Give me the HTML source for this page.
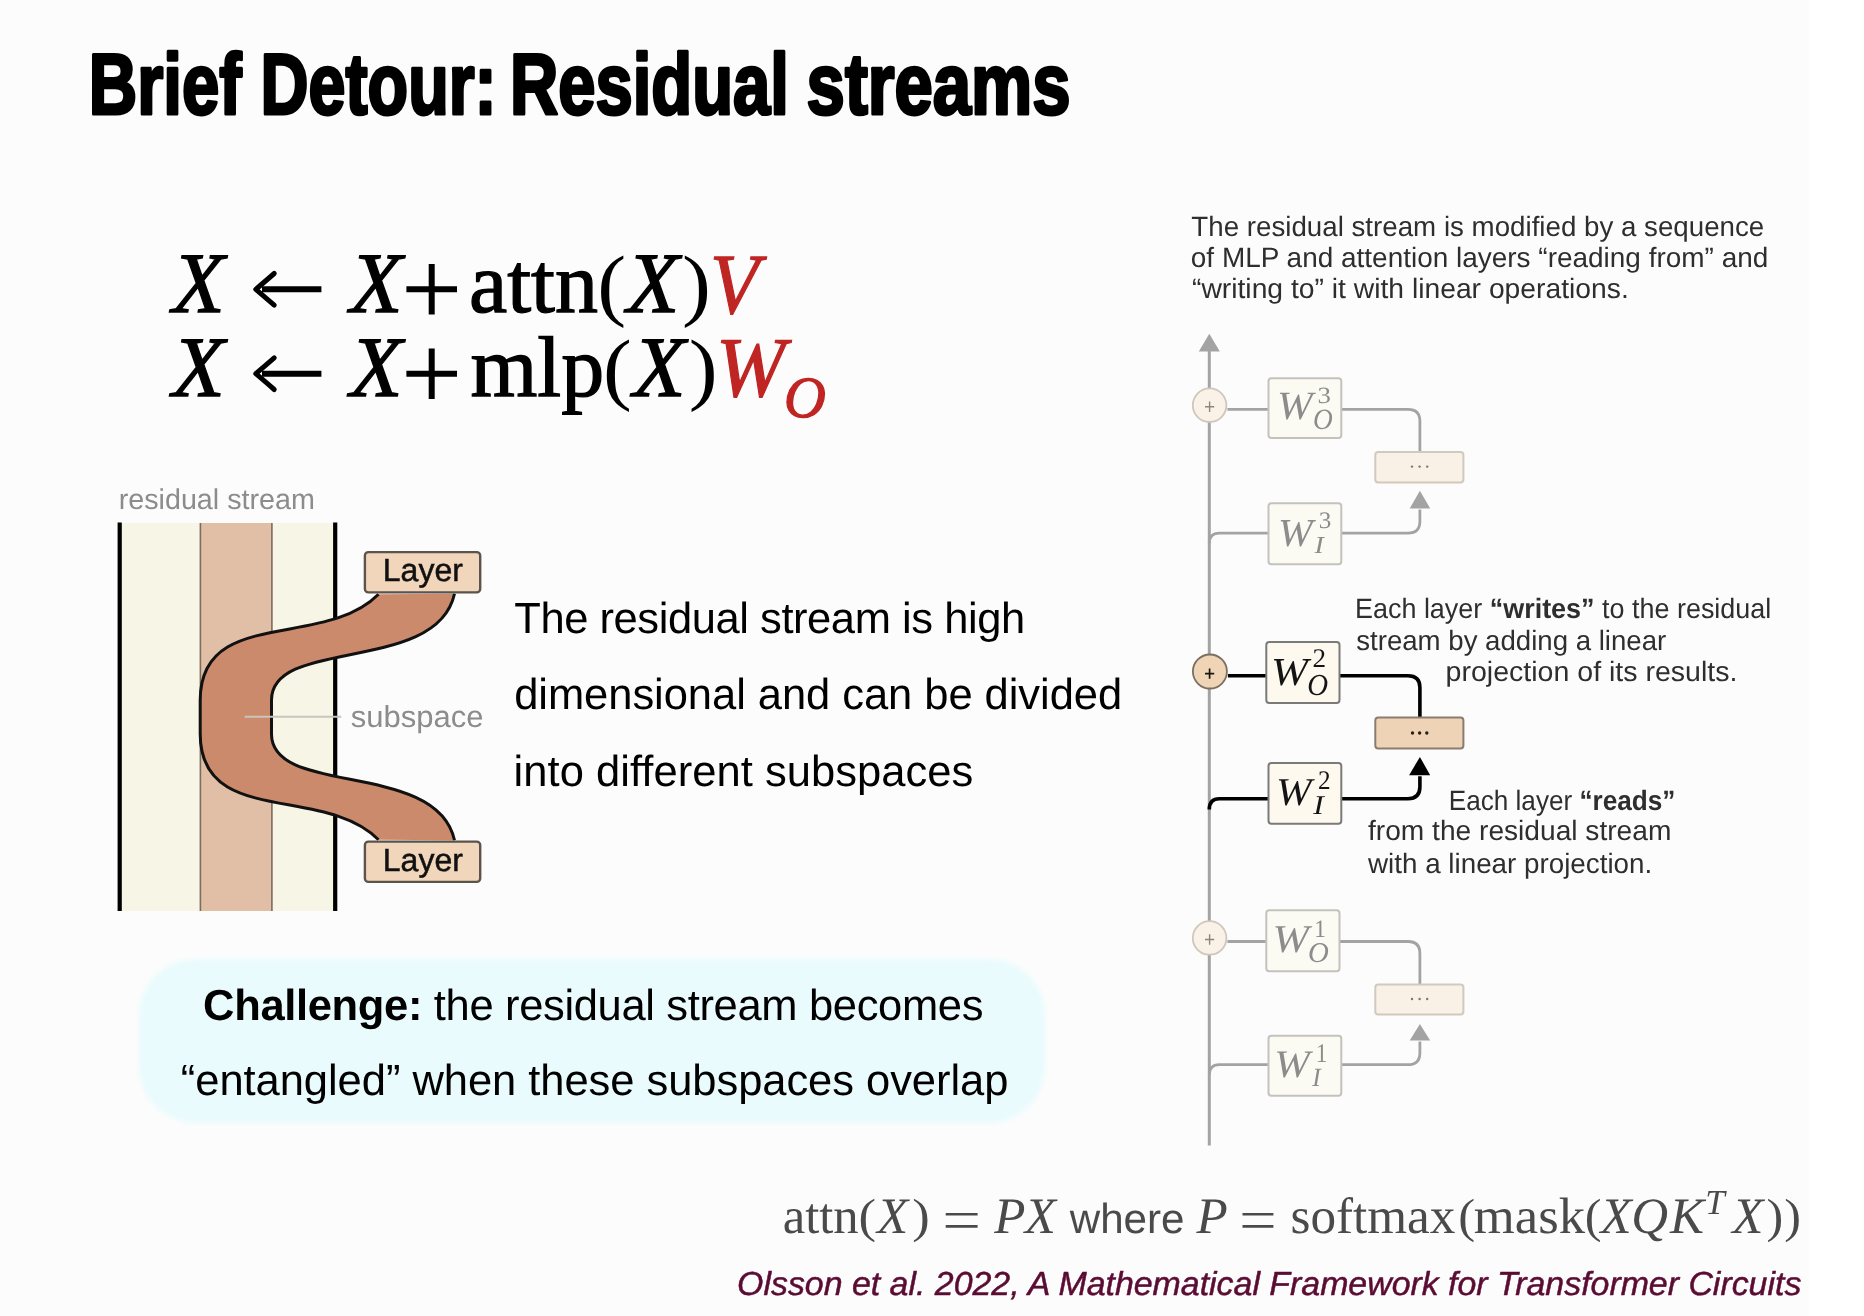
<!DOCTYPE html>
<html><head><meta charset="utf-8"><title>Brief Detour: Residual streams</title>
<style>
html,body{margin:0;padding:0;background:#fcfcfc;}
#s{position:relative;width:1864px;height:1316px;overflow:hidden;background:#fcfcfc;}
svg{position:absolute;left:0;top:0;filter:blur(0.45px);}
</style></head><body>
<div id="s">
<svg width="1864" height="1316" viewBox="0 0 1864 1316" text-rendering="geometricPrecision">
<rect x="1809" y="0" width="55" height="1316" fill="#ffffff"/>
<text x="88.75" y="113.60" font-family="Liberation Sans" font-size="86.5" fill="#000" font-weight="bold" textLength="152.79" lengthAdjust="spacingAndGlyphs" stroke="#000" stroke-width="3.2" stroke-linejoin="round">Brief</text>
<text x="260.59" y="113.60" font-family="Liberation Sans" font-size="86.5" fill="#000" font-weight="bold" textLength="236.06" lengthAdjust="spacingAndGlyphs" stroke="#000" stroke-width="3.2" stroke-linejoin="round">Detour:</text>
<text x="510.06" y="113.60" font-family="Liberation Sans" font-size="86.5" fill="#000" font-weight="bold" textLength="278.74" lengthAdjust="spacingAndGlyphs" stroke="#000" stroke-width="3.2" stroke-linejoin="round">Residual</text>
<text x="806.61" y="113.60" font-family="Liberation Sans" font-size="86.5" fill="#000" font-weight="bold" textLength="263.98" lengthAdjust="spacingAndGlyphs" stroke="#000" stroke-width="3.2" stroke-linejoin="round">streams</text>
<text x="172.26" y="312.00" font-family="Liberation Serif" font-size="86" fill="#000" font-style="italic" stroke="#000" stroke-width="1.3">X</text>
<text x="349.96" y="312.00" font-family="Liberation Serif" font-size="86" fill="#000" font-style="italic" stroke="#000" stroke-width="1.3">X</text>
<text x="172.26" y="396.40" font-family="Liberation Serif" font-size="86" fill="#000" font-style="italic" stroke="#000" stroke-width="1.3">X</text>
<text x="349.96" y="396.40" font-family="Liberation Serif" font-size="86" fill="#000" font-style="italic" stroke="#000" stroke-width="1.3">X</text>
<text x="468.98" y="312.00" font-family="Liberation Serif" font-size="86" fill="#000" stroke="#000" stroke-width="1.3">attn</text>
<text x="626.86" y="312.00" font-family="Liberation Serif" font-size="86" fill="#000" font-style="italic" stroke="#000" stroke-width="1.3">X</text>
<text x="470.39" y="396.40" font-family="Liberation Serif" font-size="86" fill="#000" stroke="#000" stroke-width="1.3">mlp</text>
<text x="633.06" y="396.40" font-family="Liberation Serif" font-size="86" fill="#000" font-style="italic" stroke="#000" stroke-width="1.3">X</text>
<path d="M262,289.3 H321.4" stroke="#000" stroke-width="6" fill="none"/>
<path d="M274.2,273.5 Q263.5,282.8 255.8,289.3 Q263.5,295.8 274.2,305.1" stroke="#000" stroke-width="5" fill="none" stroke-linecap="round" stroke-linejoin="round"/>
<path d="M406.4,289.3 H457 M431.7,264.0 V314.6" stroke="#000" stroke-width="6" fill="none"/>
<path d="M262,373.7 H321.4" stroke="#000" stroke-width="6" fill="none"/>
<path d="M274.2,357.9 Q263.5,367.2 255.8,373.7 Q263.5,380.2 274.2,389.5" stroke="#000" stroke-width="5" fill="none" stroke-linecap="round" stroke-linejoin="round"/>
<path d="M406.4,373.7 H457 M431.7,348.4 V399.0" stroke="#000" stroke-width="6" fill="none"/>
<rect x="120" y="523" width="215" height="388" fill="#f7f5e5"/>
<rect x="200.4" y="523" width="71.5" height="388" fill="#e0bfa6"/>
<path d="M200.4,523 V911 M271.9,523 V911" stroke="#7d6b5c" stroke-width="1.6" fill="none"/>
<path d="M119.7,522.5 V911 M335.2,522.5 V911" stroke="#000" stroke-width="4.2" fill="none"/>
<path d="M378.5,594.2 C324.2,649.5 200.2,606.6 200.2,700.3 L200.2,733.7 C200.2,827.4 324.2,784.5 378.5,839.8 L454.5,840.2 C436.9,759.9 271.5,797.0 271.5,734.0 L271.5,700.0 C271.5,637.0 436.9,674.1 454.5,593.8 Z" fill="#cb8a6c" stroke="none"/>
<path d="M378.5,594.2 C324.2,649.5 200.2,606.6 200.2,700.3 L200.2,733.7 C200.2,827.4 324.2,784.5 378.5,839.8 M454.5,840.2 C436.9,759.9 271.5,797.0 271.5,734.0 L271.5,700.0 C271.5,637.0 436.9,674.1 454.5,593.8" fill="none" stroke="#111" stroke-width="3"/>
<path d="M244.7,716.8 H341.3" stroke="#c9c4bd" stroke-width="2" fill="none"/>
<rect x="364.9" y="552.1" width="115.29999999999998" height="40.30000000000005" rx="3.5" fill="#f1d6bb" stroke="#5b544c" stroke-width="2.4"/>
<rect x="364.9" y="841.6" width="115.29999999999998" height="40.30000000000005" rx="3.5" fill="#f1d6bb" stroke="#5b544c" stroke-width="2.4"/>
<text x="382.80" y="581.00" font-family="Liberation Sans" font-size="32" fill="#111" stroke="#111" stroke-width="0.5">Layer</text>
<text x="382.80" y="871.00" font-family="Liberation Sans" font-size="32" fill="#111" stroke="#111" stroke-width="0.5">Layer</text>
<text x="118.69" y="509.40" font-family="Liberation Sans" font-size="28.6" fill="#8c8c8c" textLength="196.20" lengthAdjust="spacingAndGlyphs" >residual stream</text>
<text x="350.74" y="726.90" font-family="Liberation Sans" font-size="30.5" fill="#8c8c8c" textLength="132.74" lengthAdjust="spacingAndGlyphs" >subspace</text>
<text x="514.24" y="633.10" font-family="Liberation Sans" font-size="43.5" fill="#000" textLength="511.00" lengthAdjust="spacing" >The residual stream is high</text>
<text x="514.17" y="708.90" font-family="Liberation Sans" font-size="43.5" fill="#000" textLength="608.00" lengthAdjust="spacing" >dimensional and can be divided</text>
<text x="513.59" y="786.30" font-family="Liberation Sans" font-size="43.5" fill="#000" textLength="459.60" lengthAdjust="spacing" >into different subspaces</text>
<defs><filter id="bl" x="-5%" y="-10%" width="110%" height="120%"><feGaussianBlur stdDeviation="2.2"/></filter></defs>
<rect x="139" y="959" width="906" height="164" rx="56" fill="#eafbfd" filter="url(#bl)"/>
<text x="203.12" y="1019.80" font-family="Liberation Sans" font-size="43.5" fill="#000" textLength="780.30" lengthAdjust="spacing" ><tspan font-weight="bold">Challenge:</tspan> the residual stream becomes</text>
<text x="180.79" y="1094.70" font-family="Liberation Sans" font-size="43.5" fill="#000" textLength="827.60" lengthAdjust="spacing" >“entangled” when these subspaces overlap</text>
<text x="709.91" y="312.70" font-family="Liberation Serif" font-size="85.68" fill="#bf2522" font-style="italic" textLength="48.98" lengthAdjust="spacingAndGlyphs" stroke="#bf2522" stroke-width="1.2">V</text>
<text x="716.12" y="395.71" font-family="Liberation Serif" font-size="85.08" fill="#bf2522" font-style="italic" textLength="69.29" lengthAdjust="spacingAndGlyphs" stroke="#bf2522" stroke-width="1.2">W</text>
<text x="783.88" y="417.43" font-family="Liberation Serif" font-size="58.34" fill="#bf2522" font-style="italic" textLength="41.88" lengthAdjust="spacingAndGlyphs" stroke="#bf2522" stroke-width="1.2">O</text>
<text x="597.18" y="310.78" font-family="Liberation Serif" font-size="79.96" fill="#000" textLength="28.91" lengthAdjust="spacingAndGlyphs" >(</text>
<text x="681.90" y="310.78" font-family="Liberation Serif" font-size="79.96" fill="#000" textLength="28.91" lengthAdjust="spacingAndGlyphs" >)</text>
<text x="603.00" y="395.18" font-family="Liberation Serif" font-size="79.96" fill="#000" textLength="28.78" lengthAdjust="spacingAndGlyphs" >(</text>
<text x="688.80" y="395.18" font-family="Liberation Serif" font-size="79.96" fill="#000" textLength="28.91" lengthAdjust="spacingAndGlyphs" >)</text>
<path d="M1209.3,350 V1145.5" stroke="#a3a3a3" stroke-width="3" fill="none"/>
<path d="M1209.3,333.8 L1198.8,351.6 L1219.8,351.6 Z" fill="#a3a3a3"/>
<path d="M1227.3999999999999,409.4 H1268.5" stroke="#a3a3a3" stroke-width="2.8" fill="none"/>
<path d="M1341.3,409.4 H1408 Q1419.9,409.4 1419.9,421.3 V451.9" stroke="#a3a3a3" stroke-width="2.8" fill="none"/>
<path d="M1209.3,543.5 Q1209.3,533.2 1219.3,533.2 H1268.5" stroke="#a3a3a3" stroke-width="2.8" fill="none"/>
<path d="M1341.3,533.2 H1408 Q1419.9,533.2 1419.9,521.3 V509.4" stroke="#a3a3a3" stroke-width="2.8" fill="none"/>
<path d="M1419.9,490.8 L1409.7,508.4 L1430.2,508.4 Z" fill="#a3a3a3"/>
<circle cx="1209.6" cy="405.2" r="16.8" fill="#faf2e7" stroke="#cfc7bb" stroke-width="1.8"/>
<path d="M1205.0,406.8 H1214.1999999999998 M1209.6,401.6 V412.0" stroke="#8f857c" stroke-width="1.4" fill="none"/>
<rect x="1268.5" y="378.3" width="72.79999999999995" height="59.599999999999966" rx="3" fill="#fcfbf3" stroke="#c3c2bd" stroke-width="2"/>
<rect x="1268.5" y="503.3" width="72.79999999999995" height="60.900000000000034" rx="3" fill="#fcfbf3" stroke="#c3c2bd" stroke-width="2"/>
<rect x="1375.3" y="451.9" width="88.10000000000014" height="30.5" rx="3" fill="#f9f1e5" stroke="#d0c9be" stroke-width="2"/>
<circle cx="1412" cy="466.6" r="1.2" fill="#7a7570"/>
<circle cx="1419.6" cy="466.6" r="1.2" fill="#7a7570"/>
<circle cx="1427.2" cy="466.6" r="1.2" fill="#7a7570"/>
<text x="1276.98" y="418.69" font-family="Liberation Serif" font-size="40.15" fill="#8c8c8c" font-style="italic" textLength="35.68" lengthAdjust="spacingAndGlyphs" >W</text>
<text x="1317.41" y="402.57" font-family="Liberation Serif" font-size="23.37" fill="#8c8c8c" textLength="13.44" lengthAdjust="spacingAndGlyphs" >3</text>
<text x="1313.03" y="428.71" font-family="Liberation Serif" font-size="29.32" fill="#8c8c8c" font-style="italic" textLength="19.71" lengthAdjust="spacingAndGlyphs" >O</text>
<text x="1277.95" y="545.50" font-family="Liberation Serif" font-size="39.56" fill="#8c8c8c" font-style="italic" textLength="34.69" lengthAdjust="spacingAndGlyphs" >W</text>
<text x="1318.80" y="527.57" font-family="Liberation Serif" font-size="23.67" fill="#8c8c8c" textLength="12.59" lengthAdjust="spacingAndGlyphs" >3</text>
<text x="1314.61" y="552.90" font-family="Liberation Serif" font-size="24.28" fill="#8c8c8c" font-style="italic" textLength="9.30" lengthAdjust="spacingAndGlyphs" >I</text>
<path d="M1227.9,675.8 H1266.3" stroke="#000" stroke-width="3.6" fill="none"/>
<path d="M1339.5,675.8 H1408 Q1419.9,675.8 1419.9,687.6 V717.4" stroke="#000" stroke-width="3.6" fill="none"/>
<path d="M1209.3,809.5 Q1209.3,798.8 1219.3,798.8 H1268.5" stroke="#000" stroke-width="3.6" fill="none"/>
<path d="M1341.3,798.8 H1408 Q1419.9,798.8 1419.9,786.8 V776.2" stroke="#000" stroke-width="3.6" fill="none"/>
<path d="M1419.9,756.9 L1409.1,775.2 L1430.2,775.2 Z" fill="#000"/>
<circle cx="1209.9" cy="671.5" r="17.0" fill="#efd4b6" stroke="#7b6f64" stroke-width="1.8"/>
<path d="M1205.0,673.6 H1214.1999999999998 M1209.6,668.4 V678.8000000000001" stroke="#1a1410" stroke-width="1.7" fill="none"/>
<rect x="1266.3" y="641.9" width="73.20000000000005" height="61.0" rx="3" fill="#fdf9ee" stroke="#7a7a78" stroke-width="2"/>
<rect x="1268.5" y="762.9" width="72.79999999999995" height="60.89999999999998" rx="3" fill="#fdf9ee" stroke="#7a7a78" stroke-width="2"/>
<rect x="1375.3" y="717.4" width="88.10000000000014" height="31.100000000000023" rx="3" fill="#eed3b6" stroke="#8a7c70" stroke-width="2"/>
<circle cx="1412.5" cy="733.0" r="1.7" fill="#2a1e16"/>
<circle cx="1419.6" cy="733.0" r="1.7" fill="#2a1e16"/>
<circle cx="1426.8" cy="733.0" r="1.7" fill="#2a1e16"/>
<text x="1270.97" y="684.60" font-family="Liberation Serif" font-size="39.56" fill="#141414" font-style="italic" textLength="36.97" lengthAdjust="spacingAndGlyphs" >W</text>
<text x="1312.41" y="667.40" font-family="Liberation Serif" font-size="26.88" fill="#141414" textLength="13.60" lengthAdjust="spacingAndGlyphs" >2</text>
<text x="1307.15" y="694.90" font-family="Liberation Serif" font-size="30.51" fill="#141414" font-style="italic" textLength="20.83" lengthAdjust="spacingAndGlyphs" >O</text>
<text x="1276.08" y="805.00" font-family="Liberation Serif" font-size="39.41" fill="#141414" font-style="italic" textLength="35.58" lengthAdjust="spacingAndGlyphs" >W</text>
<text x="1317.89" y="789.20" font-family="Liberation Serif" font-size="26.88" fill="#141414" textLength="12.60" lengthAdjust="spacingAndGlyphs" >2</text>
<text x="1313.22" y="813.80" font-family="Liberation Serif" font-size="27.18" fill="#141414" font-style="italic" textLength="10.54" lengthAdjust="spacingAndGlyphs" >I</text>
<path d="M1227.3999999999999,941.5 H1266.3" stroke="#a3a3a3" stroke-width="2.8" fill="none"/>
<path d="M1339.5,941.5 H1408 Q1419.9,941.5 1419.9,953.5 V984.4" stroke="#a3a3a3" stroke-width="2.8" fill="none"/>
<path d="M1209.3,1075.0 Q1209.3,1064.7 1219.3,1064.7 H1268.5" stroke="#a3a3a3" stroke-width="2.8" fill="none"/>
<path d="M1341.3,1064.7 H1408 Q1419.9,1064.7 1419.9,1052.7 V1041.4" stroke="#a3a3a3" stroke-width="2.8" fill="none"/>
<path d="M1419.9,1023.9 L1409.7,1040.4 L1430.2,1040.4 Z" fill="#a3a3a3"/>
<circle cx="1209.6" cy="937.9" r="16.8" fill="#faf2e7" stroke="#cfc7bb" stroke-width="1.8"/>
<path d="M1205.0,939.5 H1214.1999999999998 M1209.6,934.3 V944.7" stroke="#8f857c" stroke-width="1.4" fill="none"/>
<rect x="1266.3" y="910.3" width="73.20000000000005" height="60.90000000000009" rx="3" fill="#fcfbf3" stroke="#c3c2bd" stroke-width="2"/>
<rect x="1268.5" y="1035.8" width="72.79999999999995" height="60.0" rx="3" fill="#fcfbf3" stroke="#c3c2bd" stroke-width="2"/>
<rect x="1375.3" y="984.4" width="88.10000000000014" height="30.0" rx="3" fill="#f9f1e5" stroke="#d0c9be" stroke-width="2"/>
<circle cx="1412" cy="999.0" r="1.2" fill="#7a7570"/>
<circle cx="1419.6" cy="999.0" r="1.2" fill="#7a7570"/>
<circle cx="1427.2" cy="999.0" r="1.2" fill="#7a7570"/>
<text x="1272.41" y="952.00" font-family="Liberation Serif" font-size="39.41" fill="#8c8c8c" font-style="italic" textLength="36.47" lengthAdjust="spacingAndGlyphs" >W</text>
<text x="1314.25" y="936.70" font-family="Liberation Serif" font-size="24.84" fill="#8c8c8c" textLength="11.65" lengthAdjust="spacingAndGlyphs" >1</text>
<text x="1308.05" y="961.52" font-family="Liberation Serif" font-size="28.58" fill="#8c8c8c" font-style="italic" textLength="20.83" lengthAdjust="spacingAndGlyphs" >O</text>
<text x="1274.28" y="1076.61" font-family="Liberation Serif" font-size="38.81" fill="#8c8c8c" font-style="italic" textLength="35.58" lengthAdjust="spacingAndGlyphs" >W</text>
<text x="1315.65" y="1061.70" font-family="Liberation Serif" font-size="26.96" fill="#8c8c8c" textLength="11.65" lengthAdjust="spacingAndGlyphs" >1</text>
<text x="1312.30" y="1085.80" font-family="Liberation Serif" font-size="26.42" fill="#8c8c8c" font-style="italic" textLength="8.50" lengthAdjust="spacingAndGlyphs" >I</text>
<text x="1191.37" y="235.50" font-family="Liberation Sans" font-size="28" fill="#2e2e2e" textLength="572.87" lengthAdjust="spacingAndGlyphs" >The residual stream is modified by a sequence</text>
<text x="1190.82" y="266.60" font-family="Liberation Sans" font-size="28" fill="#2e2e2e" textLength="577.48" lengthAdjust="spacingAndGlyphs" >of MLP and attention layers “reading from” and</text>
<text x="1191.97" y="298.00" font-family="Liberation Sans" font-size="28" fill="#2e2e2e" textLength="436.78" lengthAdjust="spacingAndGlyphs" >“writing to” it with linear operations.</text>
<text x="1355.00" y="618.30" font-family="Liberation Sans" font-size="28" fill="#2e2e2e" textLength="416.27" lengthAdjust="spacingAndGlyphs" >Each layer <tspan font-weight="bold">“writes”</tspan> to the residual</text>
<text x="1356.22" y="650.30" font-family="Liberation Sans" font-size="28" fill="#2e2e2e" textLength="310.04" lengthAdjust="spacingAndGlyphs" >stream by adding a linear</text>
<text x="1445.60" y="681.20" font-family="Liberation Sans" font-size="28" fill="#2e2e2e" textLength="291.86" lengthAdjust="spacingAndGlyphs" >projection of its results.</text>
<text x="1448.70" y="809.50" font-family="Liberation Sans" font-size="28" fill="#2e2e2e" textLength="226.72" lengthAdjust="spacingAndGlyphs" >Each layer <tspan font-weight="bold">“reads”</tspan></text>
<text x="1368.00" y="840.40" font-family="Liberation Sans" font-size="28" fill="#2e2e2e" textLength="303.34" lengthAdjust="spacingAndGlyphs" >from the residual stream</text>
<text x="1368.04" y="872.50" font-family="Liberation Sans" font-size="28" fill="#2e2e2e" textLength="284.22" lengthAdjust="spacingAndGlyphs" >with a linear projection.</text>
<text x="782.72" y="1232.60" font-family="Liberation Serif" font-size="51" fill="#4a4a4a" textLength="75.95" lengthAdjust="spacingAndGlyphs" >attn</text>
<text x="876.99" y="1232.60" font-family="Liberation Serif" font-size="51" fill="#4a4a4a" font-style="italic" >X</text>
<text x="994.27" y="1232.60" font-family="Liberation Serif" font-size="51" fill="#4a4a4a" font-style="italic" >P</text>
<text x="1024.69" y="1232.60" font-family="Liberation Serif" font-size="51" fill="#4a4a4a" font-style="italic" >X</text>
<text x="858.49" y="1231.96" font-family="Liberation Serif" font-size="48.08" fill="#4a4a4a" textLength="17.50" lengthAdjust="spacingAndGlyphs" >(</text>
<text x="912.21" y="1231.96" font-family="Liberation Serif" font-size="48.08" fill="#4a4a4a" textLength="17.50" lengthAdjust="spacingAndGlyphs" >)</text>
<text x="1458.38" y="1231.96" font-family="Liberation Serif" font-size="48.08" fill="#4a4a4a" textLength="16.86" lengthAdjust="spacingAndGlyphs" >(</text>
<text x="1584.89" y="1231.96" font-family="Liberation Serif" font-size="48.08" fill="#4a4a4a" textLength="16.73" lengthAdjust="spacingAndGlyphs" >(</text>
<text x="1766.48" y="1231.96" font-family="Liberation Serif" font-size="48.08" fill="#4a4a4a" textLength="16.73" lengthAdjust="spacingAndGlyphs" >)</text>
<text x="1784.38" y="1231.96" font-family="Liberation Serif" font-size="48.08" fill="#4a4a4a" textLength="16.73" lengthAdjust="spacingAndGlyphs" >)</text>
<path d="M945.7,1214.2 H977.6 M945.7,1226.4 H977.6" stroke="#4a4a4a" stroke-width="2.6" fill="none"/>
<path d="M1242.5,1214.2 H1273.4 M1242.5,1226.4 H1273.4" stroke="#4a4a4a" stroke-width="2.6" fill="none"/>
<text x="1069.76" y="1232.60" font-family="Liberation Sans" font-size="42" fill="#4a4a4a" textLength="114.71" lengthAdjust="spacingAndGlyphs" >where</text>
<text x="1196.47" y="1232.60" font-family="Liberation Serif" font-size="51" fill="#4a4a4a" font-style="italic" >P</text>
<text x="1290.50" y="1232.60" font-family="Liberation Serif" font-size="51" fill="#4a4a4a" textLength="164.92" lengthAdjust="spacingAndGlyphs" >softmax</text>
<text x="1473.89" y="1232.60" font-family="Liberation Serif" font-size="51" fill="#4a4a4a" textLength="111.21" lengthAdjust="spacingAndGlyphs" >mask</text>
<text x="1600.39" y="1232.60" font-family="Liberation Serif" font-size="51" fill="#4a4a4a" font-style="italic" >X</text>
<text x="1631.19" y="1232.60" font-family="Liberation Serif" font-size="51" fill="#4a4a4a" font-style="italic" >Q</text>
<text x="1670.10" y="1232.60" font-family="Liberation Serif" font-size="51" fill="#4a4a4a" font-style="italic" >K</text>
<text x="1705.21" y="1214.10" font-family="Liberation Serif" font-size="35" fill="#4a4a4a" font-style="italic" >T</text>
<text x="1732.29" y="1232.60" font-family="Liberation Serif" font-size="51" fill="#4a4a4a" font-style="italic" >X</text>
<text x="737.12" y="1294.55" font-family="Liberation Sans" font-size="33.3" fill="#5a0c33" font-style="italic" textLength="1064.22" lengthAdjust="spacingAndGlyphs" stroke="#5a0c33" stroke-width="0.5" stroke-linejoin="round">Olsson et al. 2022, A Mathematical Framework for Transformer Circuits</text>
</svg>
</div>
</body></html>
